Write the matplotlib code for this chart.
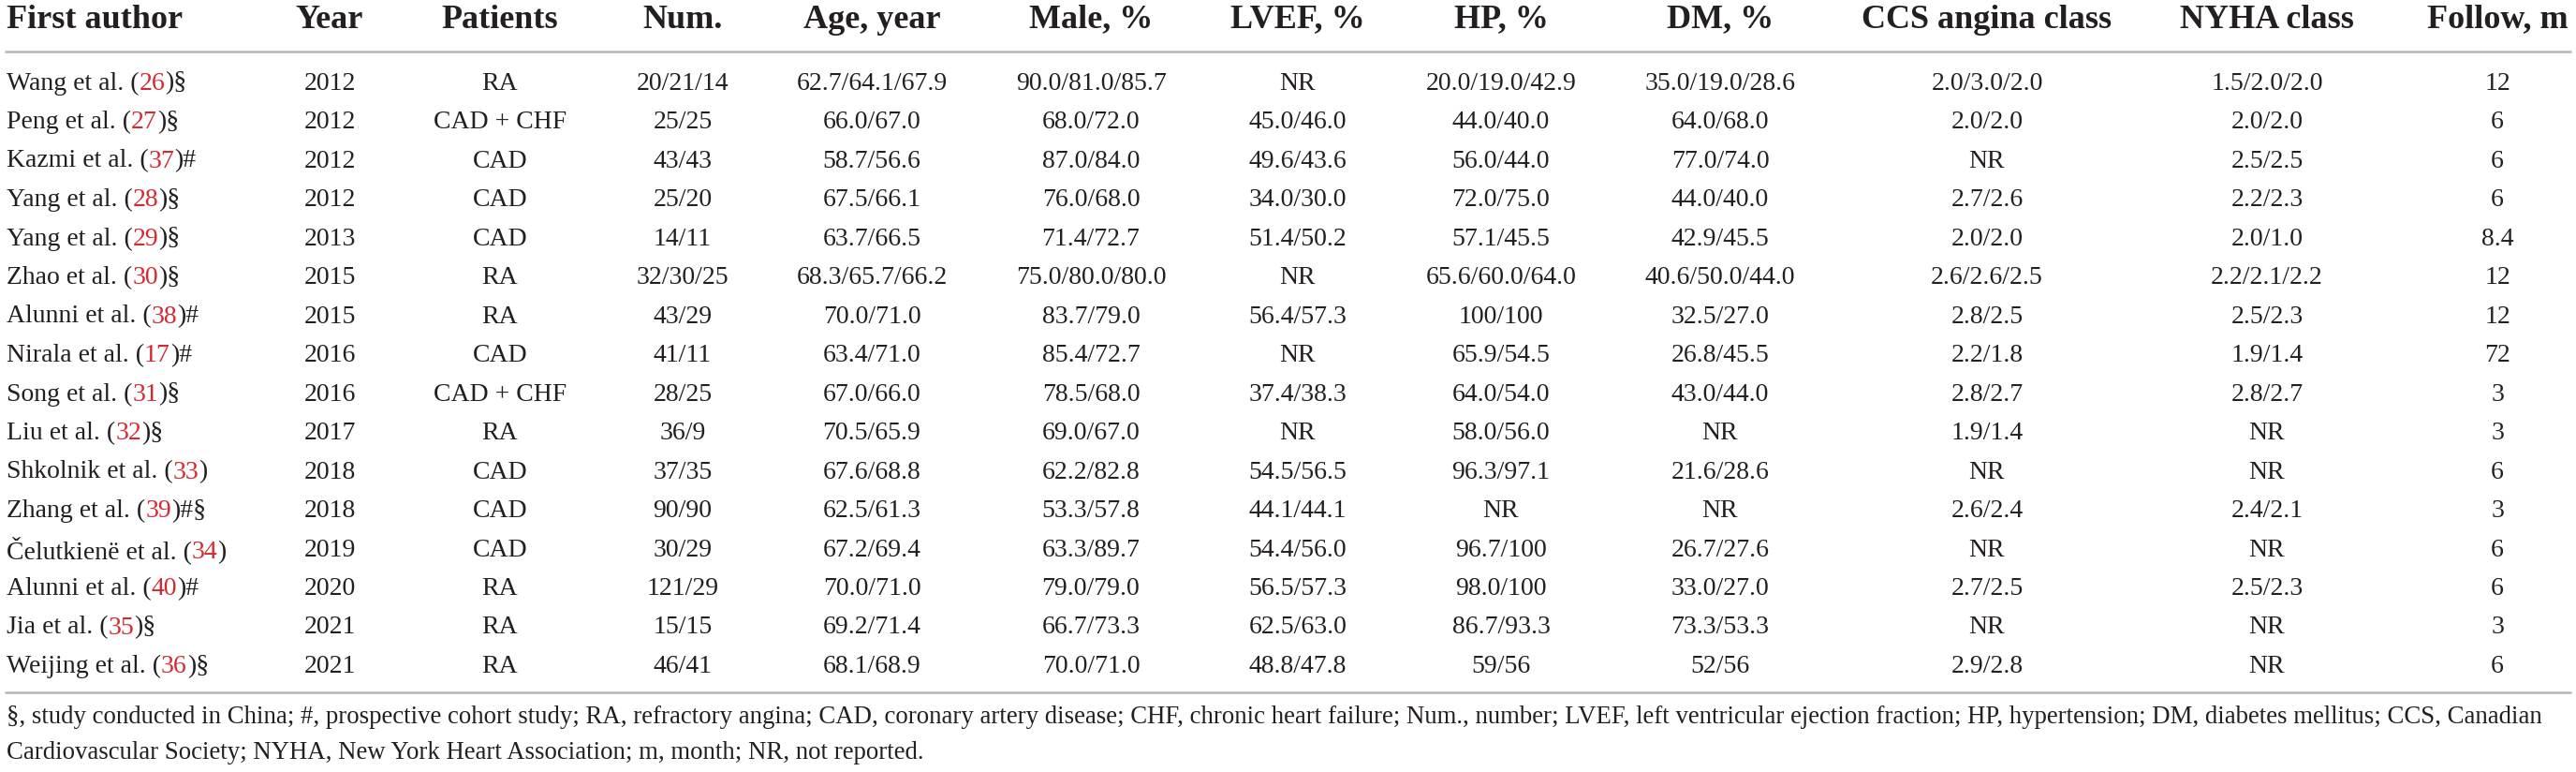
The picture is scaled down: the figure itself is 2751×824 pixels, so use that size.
import matplotlib
matplotlib.use('Agg')
import matplotlib.pyplot as plt

plt.rcParams['font.family'] = ['Liberation Serif', 'DejaVu Serif']

# table content
headers = ['First author', 'Year', 'Patients', 'Num.', 'Age, year', 'Male, %', 'LVEF, %',
           'HP, %', 'DM, %', 'CCS angina class', 'NYHA class', 'Follow, m']
authors = ['Wang et al.', 'Peng et al.', 'Kazmi et al.', 'Yang et al.', 'Yang et al.', 'Zhao et al.',
           'Alunni et al.', 'Nirala et al.', 'Song et al.', 'Liu et al.', 'Shkolnik et al.',
           'Zhang et al.', 'Čelutkienë et al.', 'Alunni et al.', 'Jia et al.', 'Weijing et al.']
refs = ['26', '27', '37', '28', '29', '30', '38', '17', '31', '32', '33', '39', '34', '40', '35', '36']
marks = ['§', '§', '#', '§', '§', '§', '#', '#', '§', '§', '', '#§', '', '#', '§', '§']
years = ['2012', '2012', '2012', '2012', '2013', '2015', '2015', '2016', '2016', '2017', '2018',
         '2018', '2019', '2020', '2021', '2021']
patients = ['RA', 'CAD + CHF', 'CAD', 'CAD', 'CAD', 'RA', 'RA', 'CAD', 'CAD + CHF', 'RA', 'CAD',
            'CAD', 'CAD', 'RA', 'RA', 'RA']
nums = ['20/21/14', '25/25', '43/43', '25/20', '14/11', '32/30/25', '43/29', '41/11', '28/25',
        '36/9', '37/35', '90/90', '30/29', '121/29', '15/15', '46/41']
ages = ['62.7/64.1/67.9', '66.0/67.0', '58.7/56.6', '67.5/66.1', '63.7/66.5', '68.3/65.7/66.2',
        '70.0/71.0', '63.4/71.0', '67.0/66.0', '70.5/65.9', '67.6/68.8', '62.5/61.3', '67.2/69.4',
        '70.0/71.0', '69.2/71.4', '68.1/68.9']
males = ['90.0/81.0/85.7', '68.0/72.0', '87.0/84.0', '76.0/68.0', '71.4/72.7', '75.0/80.0/80.0',
         '83.7/79.0', '85.4/72.7', '78.5/68.0', '69.0/67.0', '62.2/82.8', '53.3/57.8', '63.3/89.7',
         '79.0/79.0', '66.7/73.3', '70.0/71.0']
lvef = ['NR', '45.0/46.0', '49.6/43.6', '34.0/30.0', '51.4/50.2', 'NR', '56.4/57.3', 'NR',
        '37.4/38.3', 'NR', '54.5/56.5', '44.1/44.1', '54.4/56.0', '56.5/57.3', '62.5/63.0',
        '48.8/47.8']
hp = ['20.0/19.0/42.9', '44.0/40.0', '56.0/44.0', '72.0/75.0', '57.1/45.5', '65.6/60.0/64.0',
      '100/100', '65.9/54.5', '64.0/54.0', '58.0/56.0', '96.3/97.1', 'NR', '96.7/100', '98.0/100',
      '86.7/93.3', '59/56']
dm = ['35.0/19.0/28.6', '64.0/68.0', '77.0/74.0', '44.0/40.0', '42.9/45.5', '40.6/50.0/44.0',
      '32.5/27.0', '26.8/45.5', '43.0/44.0', 'NR', '21.6/28.6', 'NR', '26.7/27.6', '33.0/27.0',
      '73.3/53.3', '52/56']
ccs = ['2.0/3.0/2.0', '2.0/2.0', 'NR', '2.7/2.6', '2.0/2.0', '2.6/2.6/2.5', '2.8/2.5', '2.2/1.8',
       '2.8/2.7', '1.9/1.4', 'NR', '2.6/2.4', 'NR', '2.7/2.5', 'NR', '2.9/2.8']
nyha = ['1.5/2.0/2.0', '2.0/2.0', '2.5/2.5', '2.2/2.3', '2.0/1.0', '2.2/2.1/2.2', '2.5/2.3',
        '1.9/1.4', '2.8/2.7', 'NR', 'NR', '2.4/2.1', 'NR', '2.5/2.3', 'NR', 'NR']
follow = ['12', '6', '6', '6', '8.4', '12', '12', '72', '3', '3', '6', '3', '6', '6', '3', '6']
footnote = ['§, study conducted in China; #, prospective cohort study; RA, refractory angina; '
            'CAD, coronary artery disease; CHF, chronic heart failure; Num., number; LVEF, left '
            'ventricular ejection fraction; HP, hypertension; DM, diabetes mellitus; CCS, Canadian',
            'Cardiovascular Society; NYHA, New York Heart Association; m, month; NR, not reported.']

W, H = 2751, 824
fig = plt.figure(figsize=(W / 100, H / 100), dpi=100)
ax = fig.add_axes([0, 0, 1, 1])
ax.set_xlim(0, W)
ax.set_ylim(H, 0)
ax.axis('off')

txt_col = '#231f20'
red = '#d7282f'
body_fs = 20
head_fs = 26
note_fs = 19.3

# column centres (pixels)
x_left = 7
x_cols = [352, 534, 729, 931, 1165, 1386, 1603, 1837, 2122, 2421, 2667]
y_head = 21
y_rows = [89 + i * 41.5 for i in range(len(authors))]

ax.text(x_left, y_head, headers[0], ha='left', va='center', fontsize=head_fs,
        fontweight='bold', color=txt_col)
for x, h in zip(x_cols, headers[1:]):
    ax.text(x, y_head, h, ha='center', va='center', fontsize=head_fs,
            fontweight='bold', color=txt_col)

ax.plot([5, 2746], [55, 55], color='#b5b5b5', lw=1.8, solid_capstyle='butt')
ax.plot([5, 2746], [739, 739], color='#b5b5b5', lw=1.8, solid_capstyle='butt')

columns = [years, patients, nums, ages, males, lvef, hp, dm, ccs, nyha, follow]
for i, y in enumerate(y_rows):
    t = ax.text(x_left, y, authors[i] + ' (', ha='left', va='center',
                fontsize=body_fs, color=txt_col)
    t = ax.annotate(refs[i], xy=(1, 0), xycoords=t, ha='left', va='bottom',
                    fontsize=body_fs, color=red)
    ax.annotate(')' + marks[i], xy=(1, 0), xycoords=t, ha='left', va='bottom',
                fontsize=body_fs, color=txt_col)
    for x, col in zip(x_cols, columns):
        ax.text(x, y, col[i], ha='center', va='center', fontsize=body_fs, color=txt_col)

ax.text(x_left, 765, footnote[0], ha='left', va='center', fontsize=note_fs, color=txt_col)
ax.text(x_left, 803, footnote[1], ha='left', va='center', fontsize=note_fs, color=txt_col)

fig.savefig('out.png', dpi=100)
